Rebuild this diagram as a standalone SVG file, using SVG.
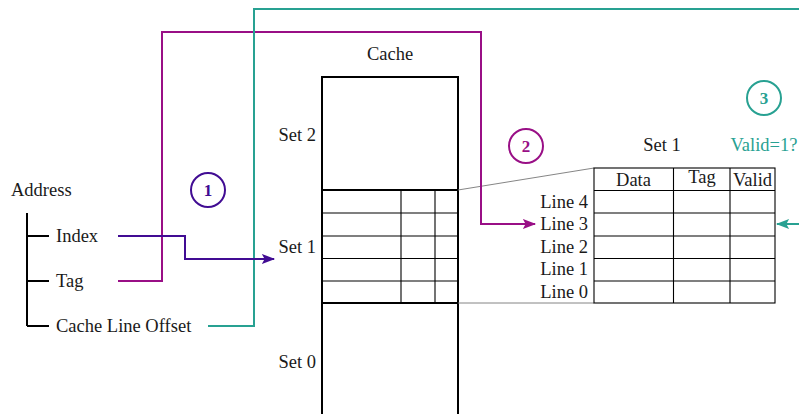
<svg xmlns="http://www.w3.org/2000/svg" width="799" height="414" viewBox="0 0 799 414">
<defs>
<style>
text{font-family:"Liberation Serif","DejaVu Serif",serif;font-size:18.5px;fill:#1a1a1a}
.mid{text-anchor:middle}
.end{text-anchor:end}
.thick{stroke:#000;stroke-width:2;fill:none}
.thin{stroke:#000;stroke-width:1.1;fill:none}
.gray{stroke:#777;stroke-width:0.9;fill:none}
.num{font-weight:bold;text-anchor:middle;font-size:17px}
</style>
<marker id="aI" viewBox="0 0 12 10" refX="11" refY="5" markerWidth="14" markerHeight="11" markerUnits="userSpaceOnUse" orient="auto"><path d="M0,0.5 L12,5 L0,9.5 L2.5,5 z" fill="#410c93"/></marker>
<marker id="aM" viewBox="0 0 12 10" refX="11" refY="5" markerWidth="14" markerHeight="11" markerUnits="userSpaceOnUse" orient="auto"><path d="M0,0.5 L12,5 L0,9.5 L2.5,5 z" fill="#990f86"/></marker>
<marker id="aT" viewBox="0 0 12 10" refX="11" refY="5" markerWidth="14" markerHeight="11" markerUnits="userSpaceOnUse" orient="auto"><path d="M0,0.5 L12,5 L0,9.5 L2.5,5 z" fill="#28a192"/></marker>
</defs>

<g id="address">
<text x="11" y="196">Address</text>
<path class="thick" d="M27,213 V326 M27,236 H49 M27,281 H49 M27,326 H49"/>
<text x="56" y="242">Index</text>
<text x="56" y="287">Tag</text>
<text x="56" y="332">Cache Line Offset</text>
</g>

<g id="cache">
<text class="mid" x="390" y="60">Cache</text>
<path class="thick" d="M322,420 V77 H458 V420"/>
<path class="thick" d="M322,190 H458 M322,303 H458"/>
<path class="thin" d="M322,213 H458 M322,236 H458 M322,258.5 H458 M322,281 H458 M401,190 V303 M435,190 V303"/>
<text class="end" x="316" y="141">Set 2</text>
<text class="end" x="316" y="253">Set 1</text>
<text class="end" x="316" y="368">Set 0</text>
</g>

<g id="set1-detail">
<path class="gray" d="M458,190 L594,168 M458,303 L594,303"/>
<text class="mid" x="662" y="151">Set 1</text>
<rect class="thin" x="594" y="168" width="181" height="135"/>
<path class="thin" d="M594,190.5 H775 M594,213 H775 M594,236 H775 M594,258.5 H775 M594,281 H775 M673.5,168 V303 M730,168 V303"/>
<text class="mid" x="633.5" y="186">Data</text>
<text class="mid" x="702" y="183">Tag</text>
<text class="mid" x="752.5" y="186">Valid</text>
<text class="end" x="588" y="208">Line 4</text>
<text class="end" x="588" y="230">Line 3</text>
<text class="end" x="588" y="253">Line 2</text>
<text class="end" x="588" y="275">Line 1</text>
<text class="end" x="588" y="298">Line 0</text>
<text class="mid" x="764" y="151" style="fill:#28a192">Valid=1?</text>
</g>

<g id="step1">
<circle cx="208" cy="190" r="17" fill="none" stroke="#410c93" stroke-width="2"/>
<text class="num" x="208" y="196" style="fill:#410c93">1</text>
</g>
<g id="step2">
<circle cx="526" cy="146" r="17" fill="none" stroke="#990f86" stroke-width="2"/>
<text class="num" x="526" y="152" style="fill:#990f86">2</text>
</g>
<g id="step3">
<circle cx="764" cy="98" r="17" fill="none" stroke="#28a192" stroke-width="2"/>
<text class="num" x="764" y="104" style="fill:#28a192">3</text>
</g>

<g id="connectors" fill="none" stroke-width="2">
<path d="M118,281 H162 V32 H481 V224 H535" stroke="#990f86" marker-end="url(#aM)"/>
<path d="M208,326 H254 V9 H805" stroke="#28a192"/>
<path d="M805,224 H777" stroke="#28a192" marker-end="url(#aT)"/>
<path d="M118,236 H185 V259 H274" stroke="#410c93" marker-end="url(#aI)"/>
</g>
</svg>
